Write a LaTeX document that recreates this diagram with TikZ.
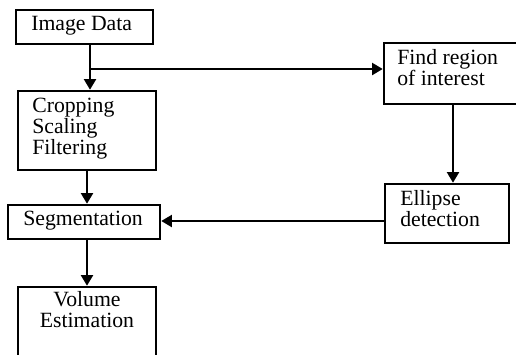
\documentclass[tikz,border=0pt]{standalone}
\usepackage{fontspec}
\setmainfont{Liberation Serif}
\usetikzlibrary{arrows.meta,fit}
\tikzset{
  box/.style={draw=black, line width=1.9pt, inner sep=0pt, rectangle},
  lbl/.style={inner sep=0pt, font=\fontsize{16.3}{16}\selectfont},
  conn/.style={line width=1.6pt},
  arr/.style={conn, -{Triangle[length=8pt,width=9pt]}}
}
\begin{document}
\begin{tikzpicture}[x=0.75pt, y=-0.75pt]
\fill[white] (0,0) rectangle (516,354);
\useasboundingbox (0,0) rectangle (516,354);
\clip (0,0) rectangle (516,354);
% boxes
\node[box, fit={(16,10) (153,44)}] (img) {};
\node[box, fit={(18,91) (156,170)}] (crop) {};
\node[box, fit={(8,205) (160,239)}] (seg) {};
\node[box, fit={(18,287) (156,372)}] (vol) {};
\node[box, fit={(384,43) (522,104)}] (find) {};
\node[box, fit={(385,184) (509,243)}] (ell) {};
% texts
\node[lbl, anchor=base west] (timg) at (31,30) {Image Data};
\node[lbl, anchor=base west] (tcrop) at (32,112) {\begin{tabular}[t]{@{}l@{}}Cropping\\Scaling\\Filtering\end{tabular}};
\node[lbl, anchor=base west] (tseg) at (23,225) {Segmentation};
\node[lbl, anchor=base] (tvol) at (87,306) {\begin{tabular}[t]{@{}c@{}}Volume\\Estimation\end{tabular}};
\node[lbl, anchor=base west] (tfind) at (397,64) {\begin{tabular}[t]{@{}l@{}}Find region\\of interest\end{tabular}};
\node[lbl, anchor=base west] (tell) at (400,205) {\begin{tabular}[t]{@{}l@{}}Ellipse\\detection\end{tabular}};
% connectors
\coordinate (j) at (90,69);
\draw[conn] (img.south -| j) -- (j);
\draw[arr] (j) -- (crop.north -| j);
\draw[arr] (j) -- (find.west |- j);
\draw[arr] (crop.south) -- (crop.south |- seg.north);
\draw[arr] (seg.south -| vol.north) -- (vol.north);
\draw[arr] (find.south) -- (find.south |- ell.north);
\coordinate (k) at (0,221);
\draw[arr] (ell.west |- k) -- (seg.east |- k);
\end{tikzpicture}
\end{document}
